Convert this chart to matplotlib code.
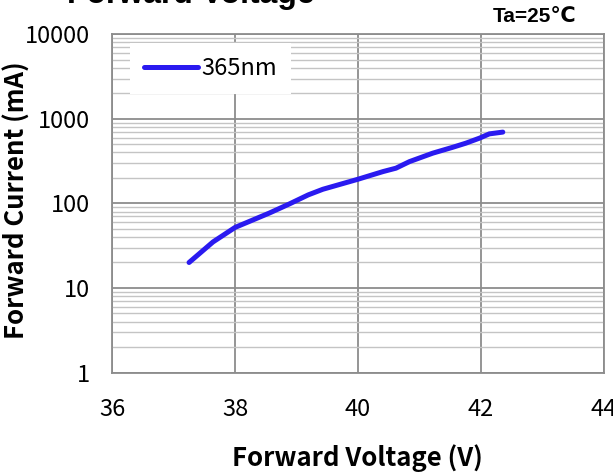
import matplotlib
matplotlib.use("Agg")
import matplotlib.pyplot as plt
from matplotlib.ticker import LogLocator, NullFormatter

voltage = [37.25, 37.64, 38.0, 38.56, 38.89, 39.19, 39.43, 40.0, 40.41, 40.62,
           40.84, 41.22, 41.54, 41.76, 41.98, 42.14, 42.36]
current = [20, 35, 52, 77, 99, 126, 147, 193, 238, 261,
           312, 393, 460, 516, 591, 664, 697]
series_name = "365nm"
x_ticks = [36, 38, 40, 42, 44]
y_ticks = [1, 10, 100, 1000, 10000]
y_tick_labels = ["1", "10", "100", "1000", "10000"]

tick_font = ["Noto Sans CJK KR", "DejaVu Sans"]
bold_font = ["Noto Sans CJK KR", "DejaVu Sans"]
arial = ["Liberation Sans", "DejaVu Sans"]

W, H = 613, 475
fig = plt.figure(figsize=(W / 100, H / 100), dpi=100)
ax = fig.add_axes([112.3 / W, 1 - 372.5 / H, (603.5 - 112.3) / W, (372.5 - 34.3) / H])

ax.plot(voltage, current, color="#2A1AF0", lw=3.6, solid_capstyle="round",
        label=series_name, zorder=3)

ax.set_yscale("log")
ax.set_xlim(36, 44)
ax.set_ylim(1, 10000)
ax.set_xticks(x_ticks)
ax.set_xticklabels([str(t) for t in x_ticks], family=tick_font, fontsize=17)
ax.set_yticks(y_ticks)
ax.set_yticklabels(y_tick_labels, family=tick_font, fontsize=17)
ax.yaxis.set_minor_locator(LogLocator(base=10, subs=range(2, 10), numticks=20))
ax.yaxis.set_minor_formatter(NullFormatter())
ax.tick_params(axis="both", which="both", length=0)
ax.tick_params(axis="x", pad=18)
ax.tick_params(axis="y", pad=16)

ax.grid(True, which="major", axis="both", color="#8c8c8c", lw=1.3, zorder=0)
ax.grid(True, which="minor", axis="y", color="#c4c4c4", lw=1.0, zorder=0)
ax.set_axisbelow(True)
for s in ax.spines.values():
    s.set_color("#8c8c8c")
    s.set_linewidth(1.3)

fig.text(357 / W, 1 - 458 / H, "Forward Voltage (V)", family=bold_font, fontsize=18.5,
         fontweight="bold", ha="center", va="center")
fig.text(17 / W, 1 - 200 / H, "Forward Current (mA)", family=bold_font, fontsize=18.5,
         fontweight="bold", ha="center", va="center", rotation=90)

leg = ax.legend(loc="upper left", bbox_to_anchor=((130 - 112.3) / 491.2, (372.5 - 42.7) / 338.2),
                borderaxespad=0, frameon=True, fancybox=False, framealpha=1,
                edgecolor="white", handlelength=2.3, handletextpad=0.12, borderpad=0.6,
                prop={"family": tick_font, "size": 17})
leg.get_frame().set_linewidth(0)

fig.text(67 / W, 1 - 2.5 / H, "Forward Voltage", family=arial,
         fontsize=23, fontweight="bold", ha="left", va="baseline")
fig.text(576 / W, 1 - 21.7 / H, "Ta=25\u2103", family=arial,
         fontsize=15, fontweight="bold", ha="right", va="baseline")

fig.savefig("out.png", dpi=100)
